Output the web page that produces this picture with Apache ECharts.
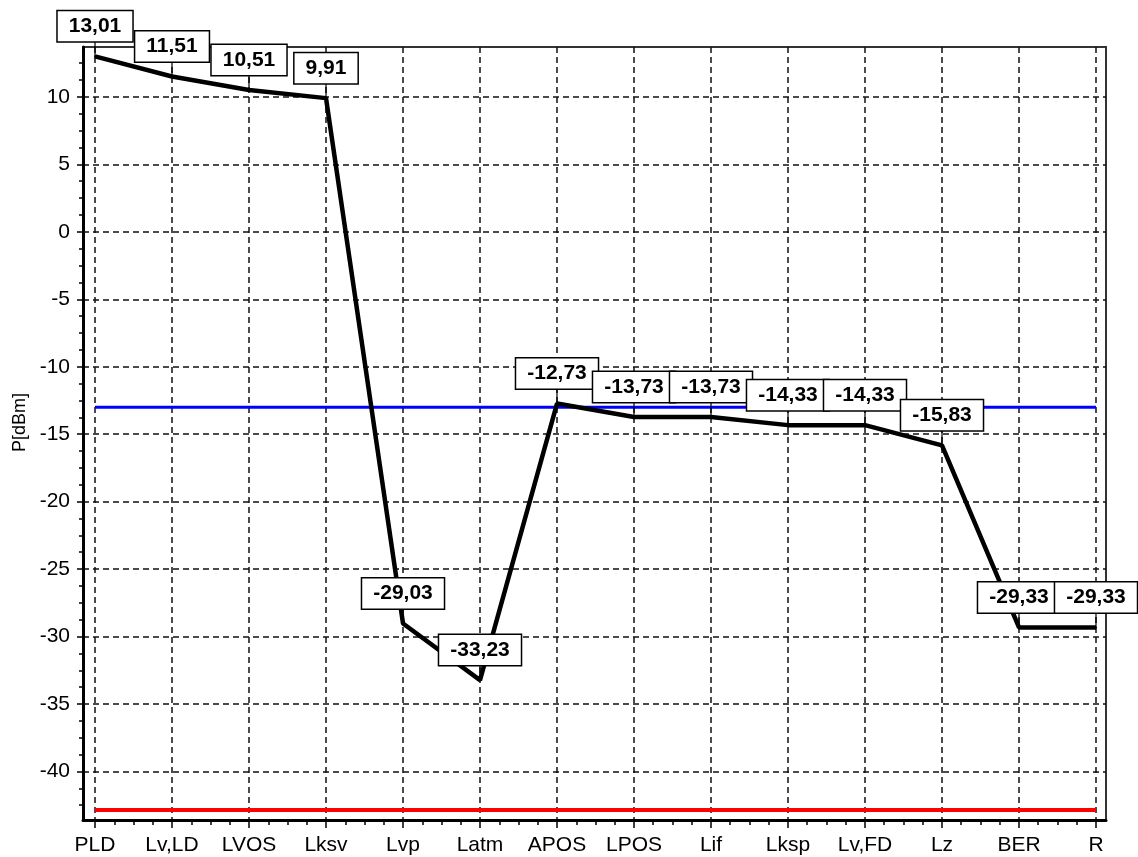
<!DOCTYPE html>
<html><head><meta charset="utf-8">
<script src="https://cdn.jsdelivr.net/npm/echarts@6/dist/echarts.min.js"></script>
<style>html,body{margin:0;padding:0;background:#fff}#c{width:1138px;height:857px}</style>
</head><body><div id="c"></div>
<script>
const categories = ['PLD','Lv,LD','LVOS','Lksv','Lvp','Latm','APOS','LPOS','Lif','Lksp','Lv,FD','Lz','BER','R'];
const power = [13.01,11.51,10.51,9.91,-29.03,-33.23,-12.73,-13.73,-13.73,-14.33,-14.33,-15.83,-29.33,-29.33];
const thresholdLevel = -13;
const sensitivityLevel = -42.85;
const yTickValues = [-40,-35,-30,-25,-20,-15,-10,-5,0,5,10];
const yAxisName = 'P[dBm]';

const FONT = "'Liberation Sans', Arial, sans-serif";
const idx = categories.map((_, i) => i);
const xMinor = []; for (let k = 0; k <= (categories.length - 1) * 4; k++) xMinor.push(k / 4);
const yMinor = []; for (let k = -34; k <= 10; k++) yMinor.push(k * 1.25);
const X_MIN = -0.156, X_MAX = 13.13, Y_MIN = -43.6, Y_MAX = 13.7;

const chart = echarts.init(document.getElementById('c'), null, {renderer: 'canvas'});
const mainData = idx.map(i => [i, power[i]]);
const option = {
  backgroundColor: '#fff',
  animation: false,
  grid: {left: 83, right: 32, top: 47, bottom: 37, show: true, borderColor: '#333', borderWidth: 2, backgroundColor: '#fff'},
  xAxis: [
    {
      type: 'value', min: X_MIN, max: X_MAX, position: 'bottom', minInterval: 1, maxInterval: 1,
      axisLine: {onZero: false, lineStyle: {color: '#000', width: 3}},
      axisTick: {customValues: idx, length: 8, lineStyle: {color: '#000', width: 1.5}},
      axisLabel: {customValues: idx, color: '#000', fontSize: 21, fontFamily: FONT, margin: 15,
        formatter: v => Number.isInteger(v) && categories[v] !== undefined ? categories[v] : ''},
      splitLine: {show: true, lineStyle: {color: '#111', width: 1.5, type: [6, 4]}}
    },
    {
      type: 'value', min: X_MIN, max: X_MAX, position: 'bottom', minInterval: 0.25, maxInterval: 0.25,
      axisLine: {show: false, onZero: false},
      axisTick: {customValues: xMinor, length: 5, lineStyle: {color: '#000', width: 1.5}},
      axisLabel: {show: false}, splitLine: {show: false}
    }
  ],
  yAxis: [
    {
      type: 'value', min: Y_MIN, max: Y_MAX, position: 'left', minInterval: 5, maxInterval: 5,
      name: yAxisName, nameLocation: 'middle', nameGap: 50,
      nameTextStyle: {color: '#000', fontSize: 18, fontFamily: FONT, padding: [0, 0, 0, 22]},
      axisLine: {onZero: false, lineStyle: {color: '#000', width: 3}},
      axisTick: {customValues: yTickValues, length: 6, lineStyle: {color: '#000', width: 1.5}},
      axisLabel: {customValues: yTickValues, color: '#000', fontSize: 21, fontFamily: FONT, margin: 13,
        formatter: v => yTickValues.includes(v) ? String(v) : ''},
      splitLine: {show: true, lineStyle: {color: '#111', width: 1.5, type: [6, 4]}}
    },
    {
      type: 'value', min: Y_MIN, max: Y_MAX, position: 'left', minInterval: 1.25, maxInterval: 1.25,
      axisLine: {show: false, onZero: false},
      axisTick: {customValues: yMinor, length: 4, lineStyle: {color: '#000', width: 1.5}},
      axisLabel: {show: false}, splitLine: {show: false}
    }
  ],
  series: [
    {
      type: 'line', name: 'threshold', data: idx.map(i => [i, thresholdLevel]),
      symbol: 'none', silent: true, z: 3, lineStyle: {color: '#0000ff', width: 3}
    },
    {
      type: 'line', name: 'sensitivity', data: idx.map(i => [i, sensitivityLevel]),
      symbol: 'none', silent: true, z: 3, lineStyle: {color: '#ff0000', width: 4}
    },
    {
      type: 'scatter', name: 'leaders', data: mainData, silent: true, z: 4,
      symbol: 'rect', symbolSize: [1.5, 16], symbolOffset: [0, '-50%'], itemStyle: {color: '#000'}
    },
    {
      type: 'line', name: 'P', data: mainData, z: 5, silent: true,
      symbol: 'circle', symbolSize: 2, itemStyle: {color: '#000'},
      lineStyle: {color: '#000', width: 4.5},
      label: {
        show: true, position: 'top', distance: 14,
        formatter: p => p.value[1].toFixed(2).replace('.', ','),
        color: '#000', fontSize: 21, fontWeight: 'bold', fontFamily: FONT, lineHeight: 22,
        backgroundColor: '#fff', borderColor: '#000', borderWidth: 1.5, padding: [4, 11]
      }
    }
  ]
};
chart.setOption(option);
</script></body></html>
